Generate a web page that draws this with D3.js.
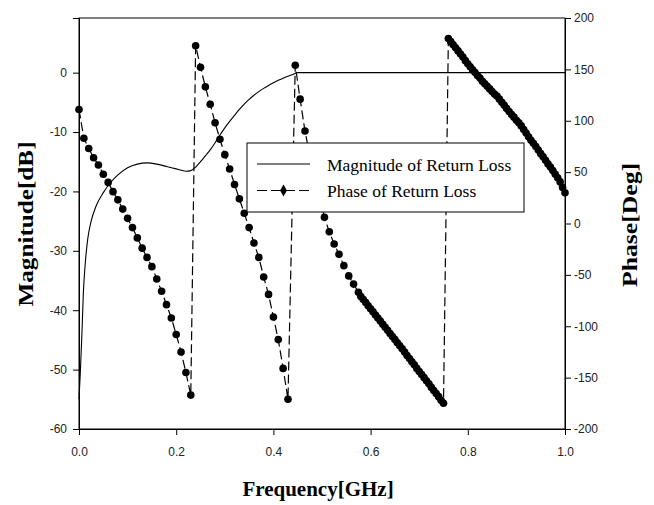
<html>
<head>
<meta charset="utf-8">
<title>Return loss magnitude and phase</title>
<script src="https://cdn.jsdelivr.net/npm/d3@7"></script>
<style>
body { margin: 0; background: #fff; }
</style>
</head>
<body>
<div id="chart"></div>
<script type="text/javascript">
// magnitude of return loss [dB]
var magFreq = [0, 0.003, 0.006, 0.009, 0.013, 0.018, 0.025, 0.035, 0.05, 0.065, 0.08, 0.1, 0.12, 0.14, 0.16, 0.18,
	0.2, 0.22, 0.23, 0.24, 0.25, 0.26, 0.27, 0.28, 0.29, 0.30, 0.31, 0.32, 0.33, 0.34, 0.35, 0.36, 0.37,
	0.38, 0.39, 0.40, 0.41, 0.42, 0.43, 0.44, 0.45, 1.0];
var magDb = [-55, -50, -44, -37, -32, -28, -25, -22.5, -20.2, -18.5, -17.2, -16, -15.4, -15.2, -15.4, -15.8,
	-16.2, -16.6, -16.5, -15.9, -15.0, -14, -13, -11.8, -10.5, -9.3, -8.2, -7.2, -6.2, -5.3, -4.5, -3.8, -3.2,
	-2.65, -2.15, -1.7, -1.3, -0.95, -0.6, -0.3, 0, 0];

// phase of return loss [deg]
var phaseFreq = [
	0, 0.01, 0.02, 0.03, 0.04, 0.05, 0.06, 0.07, 0.08, 0.09, 0.10, 0.11, 0.12, 0.13, 0.14, 0.15, 0.16, 0.17, 0.18, 0.19, 0.20, 0.21, 0.22, 0.23,
	0.24, 0.25, 0.26, 0.27, 0.28, 0.29, 0.30, 0.31, 0.32, 0.33, 0.34, 0.35, 0.36, 0.37, 0.38, 0.39, 0.40, 0.41, 0.42, 0.43,
	0.445, 0.455, 0.465, 0.475, 0.485, 0.495, 0.505, 0.515, 0.525, 0.535, 0.545, 0.555, 0.565, 0.575,
	0.58, 0.585, 0.59, 0.595, 0.60, 0.605, 0.61, 0.615, 0.62, 0.625, 0.63, 0.635, 0.64, 0.645, 0.65, 0.655, 0.66, 0.665,
	0.67, 0.675, 0.68, 0.685, 0.69, 0.695, 0.70, 0.705, 0.71, 0.715, 0.72, 0.725, 0.73, 0.735, 0.74, 0.745, 0.75,
	0.76, 0.765, 0.77, 0.775, 0.78, 0.785, 0.79, 0.795, 0.80, 0.805, 0.81, 0.815, 0.82, 0.825, 0.83, 0.835, 0.84, 0.845,
	0.85, 0.855, 0.86, 0.865, 0.87, 0.875, 0.88, 0.885, 0.89, 0.895, 0.90, 0.905, 0.91, 0.915, 0.92, 0.925, 0.93, 0.935,
	0.94, 0.945, 0.95, 0.955, 0.96, 0.965, 0.97, 0.975, 0.98, 0.985, 0.99, 0.995, 1.0];
var phaseDeg = [
	111, 83, 73, 64, 57, 48, 40, 31, 23, 14, 5, -4, -14, -24, -33, -42, -54, -66, -79, -92, -108, -125, -145, -167,
	173, 152, 133, 116, 98, 82, 67, 53, 38, 24, 10, -4, -19, -33, -52, -69, -91, -113, -141, -171,
	154, 121, 90, 66, 45, 26, 6, -8, -20, -30, -41, -51, -59, -67,
	-71, -74, -77, -80, -83, -86, -89, -92, -95, -98, -101, -104, -107, -110, -113, -116, -119, -122,
	-125, -128.5, -131.5, -134.5, -137.5, -141, -144, -147, -150, -153, -156, -159.5, -162.5, -165.5, -168.5, -172, -175,
	180, 177, 174, 171, 168, 165, 162, 158.5, 155.5, 152.5, 149.5, 147, 144, 141.5, 138.5, 136, 133.5, 131,
	128.5, 126, 124, 121, 118, 115, 112, 109, 106, 103.5, 100.5, 98, 95, 91.5, 88, 84.5, 81, 78,
	75, 71.5, 68, 65, 61.5, 58, 55, 51.5, 48, 44.5, 40.5, 35, 30];

var freqTicks = [0, 0.2, 0.4, 0.6, 0.8, 1.0];
var magTicks = [-60, -50, -40, -30, -20, -10, 0];
var phaseTicks = [-200, -150, -100, -50, 0, 50, 100, 150, 200];
var legendLabels = ["Magnitude of Return Loss", "Phase of Return Loss"];

var W = 654, H = 505;
var plot = { left: 79, right: 565, top: 18, bottom: 429 };
var serif = "'Liberation Serif', 'Times New Roman', serif";
var sans = "'Liberation Sans', Arial, sans-serif";
var plain = function(d) { return String(d); }; // hyphen minus like the original

var svg = d3.select("#chart").append("svg")
	.attr("width", W)
	.attr("height", H);

var x = d3.scaleLinear().domain([0, 1]).range([plot.left, plot.right]);
var yMag = d3.scaleLinear().domain([-60, 9.2]).range([plot.bottom, plot.top]);
var yPhase = d3.scaleLinear().domain([-200, 200]).range([plot.bottom, plot.top]);

// frame
svg.append("rect")
	.attr("x", plot.left)
	.attr("y", plot.top)
	.attr("width", plot.right - plot.left)
	.attr("height", plot.bottom - plot.top)
	.attr("fill", "none")
	.attr("stroke", "#000")
	.attr("stroke-width", 1);

// axes
var xAxis = svg.append("g")
	.attr("transform", "translate(0," + plot.bottom + ")")
	.call(d3.axisBottom(x).tickValues(freqTicks).tickFormat(d3.format(".1f")).tickSize(6).tickPadding(12));
var lAxis = svg.append("g")
	.attr("transform", "translate(" + plot.left + ",0)")
	.call(d3.axisLeft(yMag).tickValues(magTicks).tickFormat(plain).tickSize(6).tickPadding(6));
var rAxis = svg.append("g")
	.attr("transform", "translate(" + plot.right + ",0)")
	.call(d3.axisRight(yPhase).tickValues(phaseTicks).tickFormat(plain).tickSize(6).tickPadding(3));

[xAxis, lAxis, rAxis].forEach(function(g) {
	g.select(".domain").attr("stroke", "#000");
	g.selectAll(".tick line").attr("stroke", "#000");
	g.selectAll(".tick text")
		.attr("fill", "#222")
		.style("font-family", sans)
		.style("font-size", "12px");
});

// magnitude line
var magLine = d3.line()
	.x(function(d, i) { return x(magFreq[i]); })
	.y(function(d) { return yMag(d); })
	.curve(d3.curveMonotoneX);

svg.append("path")
	.datum(magDb)
	.attr("d", magLine)
	.attr("fill", "none")
	.attr("stroke", "#000")
	.attr("stroke-width", 1.1);

// phase line + markers
var phaseLine = d3.line()
	.x(function(d, i) { return x(phaseFreq[i]); })
	.y(function(d) { return yPhase(d); });

svg.append("path")
	.datum(phaseDeg)
	.attr("d", phaseLine)
	.attr("fill", "none")
	.attr("stroke", "#000")
	.attr("stroke-width", 1.2)
	.attr("stroke-dasharray", "9,4");

svg.selectAll(".dot")
	.data(phaseDeg)
	.enter()
	.append("circle")
	.attr("class", "dot")
	.attr("cx", function(d, i) { return x(phaseFreq[i]); })
	.attr("cy", function(d) { return yPhase(d); })
	.attr("r", 3.8)
	.attr("fill", "#000");

// legend
var legend = svg.append("g").attr("transform", "translate(247,143)");
legend.append("rect")
	.attr("width", 277)
	.attr("height", 69)
	.attr("fill", "#fff")
	.attr("stroke", "#000")
	.attr("stroke-width", 1);

var rows = legend.selectAll(".row")
	.data(legendLabels)
	.enter()
	.append("g")
	.attr("class", "row")
	.attr("transform", function(d, i) { return "translate(0," + (21 + i * 26.5) + ")"; });

rows.append("line")
	.attr("x1", 10)
	.attr("x2", 63)
	.attr("stroke", "#000")
	.attr("stroke-width", 1.2)
	.attr("stroke-dasharray", function(d, i) { return i ? "10,4" : null; });

rows.filter(function(d, i) { return i === 1; })
	.append("path")
	.attr("d", d3.symbol().type(d3.symbolDiamond).size(40))
	.attr("transform", "translate(36.5,0)")
	.attr("fill", "#000");

rows.append("text")
	.attr("x", 80)
	.attr("y", 6.5)
	.style("font-family", serif)
	.style("font-size", "17.5px")
	.text(function(d) { return d; });

// axis titles
svg.append("text")
	.attr("transform", "translate(33,224) rotate(-90)")
	.attr("text-anchor", "middle")
	.attr("textLength", 165)
	.attr("lengthAdjust", "spacingAndGlyphs")
	.style("font-family", serif)
	.style("font-weight", "bold")
	.style("font-size", "21px")
	.text("Magnitude[dB]");

svg.append("text")
	.attr("transform", "translate(637,225) rotate(-90)")
	.attr("text-anchor", "middle")
	.attr("textLength", 124)
	.attr("lengthAdjust", "spacingAndGlyphs")
	.style("font-family", serif)
	.style("font-weight", "bold")
	.style("font-size", "21px")
	.text("Phase[Deg]");

svg.append("text")
	.attr("x", 318)
	.attr("y", 496)
	.attr("text-anchor", "middle")
	.style("font-family", serif)
	.style("font-weight", "bold")
	.style("font-size", "21px")
	.text("Frequency[GHz]");
</script>
</body>
</html>
